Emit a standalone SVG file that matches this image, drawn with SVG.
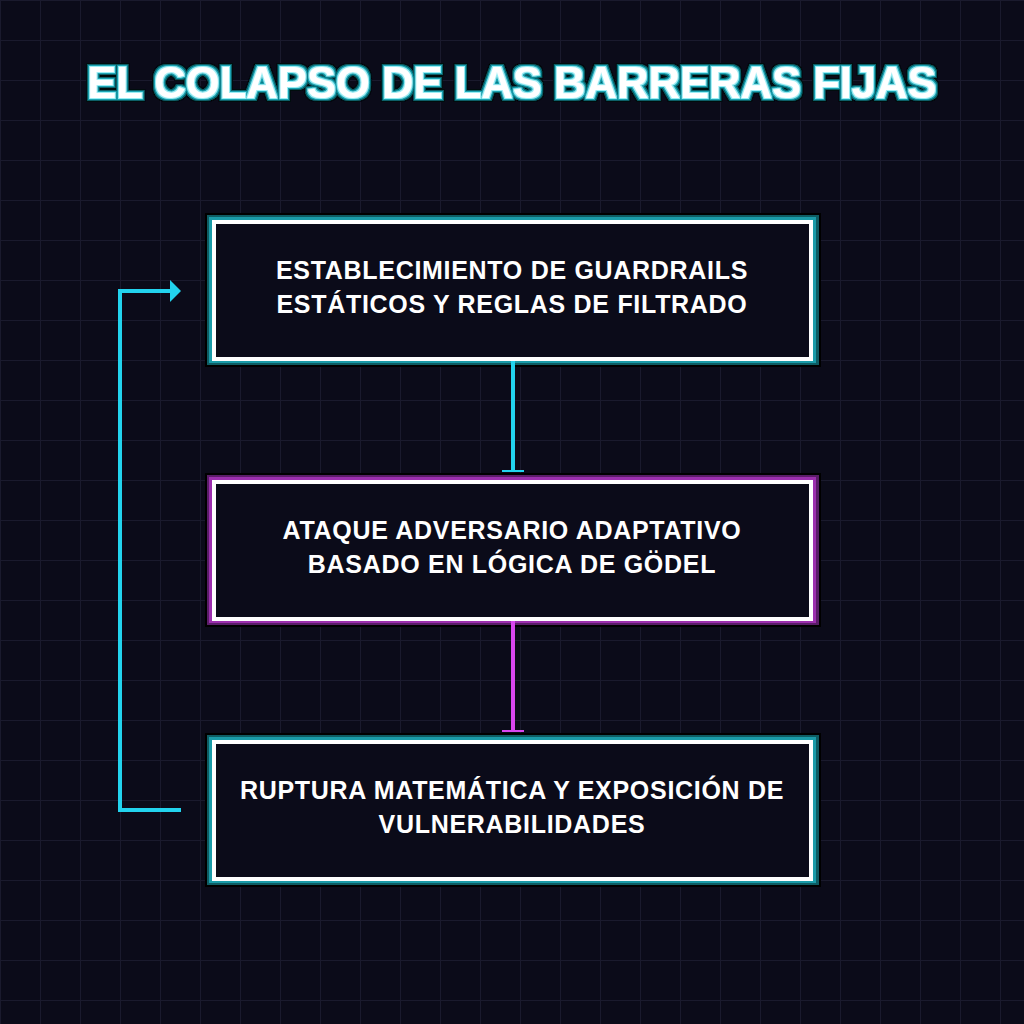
<svg xmlns="http://www.w3.org/2000/svg" width="1024" height="1024" viewBox="0 0 1024 1024">
  <defs>
    <pattern id="grid" x="0" y="0" width="40" height="40" patternUnits="userSpaceOnUse">
      <rect width="40" height="40" fill="#0b0b19"/>
      <path d="M0,0.5 H40 M0.5,0 V40" stroke="#1a1a2d" stroke-width="1" fill="none"/>
    </pattern>
    <filter id="tglow" x="-5%" y="-40%" width="110%" height="180%">
      <feMorphology in="SourceAlpha" operator="dilate" radius="4" result="d4"/>
      <feFlood flood-color="#03090c"/>
      <feComposite in2="d4" operator="in" result="c4"/>
      <feMorphology in="SourceAlpha" operator="dilate" radius="3" result="d3"/>
      <feFlood flood-color="#0e5f68"/>
      <feComposite in2="d3" operator="in" result="c3"/>
      <feMorphology in="SourceAlpha" operator="dilate" radius="1.8" result="d2"/>
      <feFlood flood-color="#1aa5b4"/>
      <feComposite in2="d2" operator="in" result="c2"/>
      <feMorphology in="SourceAlpha" operator="dilate" radius="0.7" result="d1"/>
      <feFlood flood-color="#9beef5"/>
      <feComposite in2="d1" operator="in" result="c1"/>
      <feMerge>
        <feMergeNode in="c4"/>
        <feMergeNode in="c3"/>
        <feMergeNode in="c2"/>
        <feMergeNode in="c1"/>
        <feMergeNode in="SourceGraphic"/>
      </feMerge>
    </filter>
    <marker id="tee-c" viewBox="0 0 4 22" markerWidth="4" markerHeight="22" refX="4" refY="11" orient="auto" markerUnits="userSpaceOnUse">
      <rect x="2" y="0" width="2" height="22" fill="#22d3ee"/>
    </marker>
    <marker id="tee-m" viewBox="0 0 4 22" markerWidth="4" markerHeight="22" refX="4" refY="11" orient="auto" markerUnits="userSpaceOnUse">
      <rect x="2" y="0" width="2" height="22" fill="#d946ef"/>
    </marker>
    <marker id="arrow-c" viewBox="0 0 11 22" markerWidth="11" markerHeight="22" refX="0" refY="11" orient="auto" markerUnits="userSpaceOnUse">
      <path d="M0,0 L11,11 L0,22 Z" fill="#22d3ee"/>
    </marker>
  </defs>
  <style>
    .title { font-family: "Liberation Sans", Arial, sans-serif; font-weight: bold; font-size: 43.6px; fill: #ffffff; }
    .label { font-family: "Liberation Sans", Arial, sans-serif; font-weight: bold; font-size: 25px; letter-spacing: 0.7px; fill: #ffffff; }
    .sh0 { fill: #000000; }
    .sh1c { fill: #0e5c63; }
    .sh2c { fill: #1a9ba8; }
    .sh1m { fill: #5a1d68; }
    .sh2m { fill: #9c2fae; }
    .white { fill: #ffffff; }
    .inner { fill: #0b0b19; }
    .edge-c { fill: none; stroke: #22d3ee; stroke-width: 4; }
    .edge-m { fill: none; stroke: #d946ef; stroke-width: 4; }
  </style>

  <rect x="0" y="0" width="1024" height="1024" fill="url(#grid)"/>

  <text class="title" x="512" y="98" text-anchor="middle" filter="url(#tglow)">EL COLAPSO DE LAS BARRERAS FIJAS</text>

  <g id="node-guardrails">
    <rect class="sh0" x="205" y="213" width="616" height="154"/>
    <rect class="sh1c" x="207" y="215" width="612" height="150"/>
    <rect class="sh2c" x="209" y="217" width="607" height="146"/>
    <rect class="white" x="212" y="220" width="601" height="141"/>
    <rect class="inner" x="216" y="224" width="593" height="133"/>
    <text class="label" x="512" y="278.5" text-anchor="middle">ESTABLECIMIENTO DE GUARDRAILS</text>
    <text class="label" x="512" y="312.5" text-anchor="middle">ESTÁTICOS Y REGLAS DE FILTRADO</text>
  </g>

  <g id="node-ataque">
    <rect class="sh0" x="205" y="473" width="616" height="154"/>
    <rect class="sh1m" x="207" y="475" width="612" height="150"/>
    <rect class="sh2m" x="209" y="477" width="607" height="146"/>
    <rect class="white" x="212" y="480" width="601" height="141"/>
    <rect class="inner" x="216" y="484" width="593" height="133"/>
    <text class="label" x="512" y="538.5" text-anchor="middle">ATAQUE ADVERSARIO ADAPTATIVO</text>
    <text class="label" x="512" y="572.5" text-anchor="middle">BASADO EN LÓGICA DE GÖDEL</text>
  </g>

  <g id="node-ruptura">
    <rect class="sh0" x="205" y="733" width="616" height="154"/>
    <rect class="sh1c" x="207" y="735" width="612" height="150"/>
    <rect class="sh2c" x="209" y="737" width="607" height="146"/>
    <rect class="white" x="212" y="740" width="601" height="141"/>
    <rect class="inner" x="216" y="744" width="593" height="133"/>
    <text class="label" x="512" y="798.5" text-anchor="middle">RUPTURA MATEMÁTICA Y EXPOSICIÓN DE</text>
    <text class="label" x="512" y="832.5" text-anchor="middle">VULNERABILIDADES</text>
  </g>

  <g id="connectors">
    <path class="edge-c" d="M513,361 V472" marker-end="url(#tee-c)"/>
    <path class="edge-m" d="M513,621 V732" marker-end="url(#tee-m)"/>
    <path class="edge-c" d="M181,810 H120 V291 H170" marker-end="url(#arrow-c)"/>
  </g>
</svg>
